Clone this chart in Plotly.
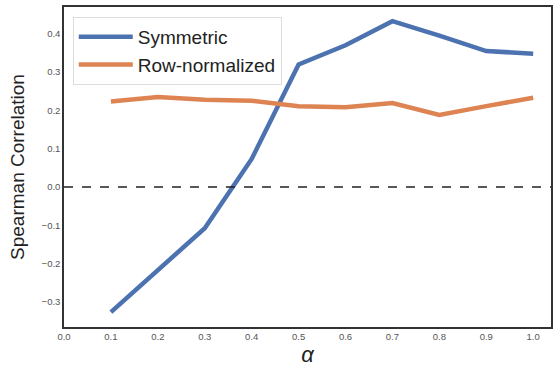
import plotly.graph_objects as go

alpha = [0.1, 0.2, 0.3, 0.4, 0.5, 0.6, 0.7, 0.8, 0.9, 1.0]
symmetric = [-0.327, -0.218, -0.108, 0.073, 0.320, 0.370, 0.433, 0.395, 0.355, 0.348]
row_normalized = [0.223, 0.235, 0.228, 0.225, 0.211, 0.208, 0.219, 0.188, 0.211, 0.233]
x_ticks = [0.0, 0.1, 0.2, 0.3, 0.4, 0.5, 0.6, 0.7, 0.8, 0.9, 1.0]
y_ticks = [-0.3, -0.2, -0.1, 0.0, 0.1, 0.2, 0.3, 0.4]

fig = go.Figure()
fig.add_trace(go.Scatter(x=alpha, y=symmetric, mode="lines", name="Symmetric",
                         line=dict(color="#4c72b0", width=4.5)))
fig.add_trace(go.Scatter(x=alpha, y=row_normalized, mode="lines", name="Row-normalized",
                         line=dict(color="#dd8452", width=4.5)))

# zero reference line
fig.add_hline(y=0, line=dict(color="#222222", width=1.5, dash="dash"))

axis_common = dict(showline=True, linecolor="#333333", linewidth=1.5, mirror=True,
                   showgrid=False, zeroline=False, ticks="",
                   tickfont=dict(family="Arial, Liberation Sans", size=9.5, color="#555555"))

fig.update_layout(
    width=555, height=371,
    margin=dict(l=64, r=2, t=7, b=44),
    plot_bgcolor="white", paper_bgcolor="white",
    font=dict(family="Arial, Liberation Sans"),
    xaxis=dict(range=[0, 1.038], tickvals=x_ticks,
               ticktext=[f"{v:.1f}" for v in x_ticks],
               title=dict(text="<i>α</i>", font=dict(size=22, color="#222222"), standoff=2),
               **axis_common),
    yaxis=dict(range=[-0.366, 0.47], tickvals=y_ticks,
               ticktext=[f"{v:.1f}".replace("-", "−") for v in y_ticks],
               title=dict(text="Spearman Correlation", font=dict(size=19, color="#222222"), standoff=12),
               **axis_common),
    legend=dict(x=0.018, y=0.969, xanchor="left", yanchor="top",
                bgcolor="rgba(255,255,255,0.8)", bordercolor="#dddddd", borderwidth=1,
                font=dict(size=19, color="#222222"), itemwidth=54, tracegroupgap=3),
    showlegend=True,
)

fig.write_html("out.html")
